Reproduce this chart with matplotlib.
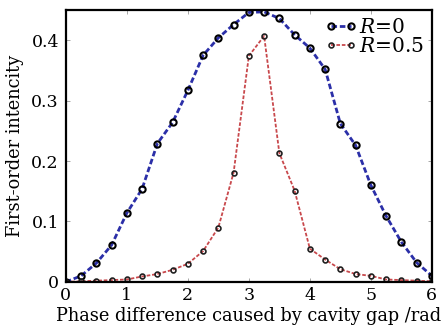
import matplotlib
matplotlib.use('Agg')
import matplotlib.pyplot as plt

# phase difference (rad) and first-order intensity for the two reflectivities
phase = [0, 0.25, 0.5, 0.75, 1.0, 1.25, 1.5, 1.75, 2.0, 2.25, 2.5, 2.75, 3.0,
         3.25, 3.5, 3.75, 4.0, 4.25, 4.5, 4.75, 5.0, 5.25, 5.5, 5.75, 6.0]
r0 = [0.0, 0.010, 0.031, 0.061, 0.114, 0.154, 0.229, 0.264, 0.317, 0.375, 0.404,
      0.426, 0.446, 0.447, 0.436, 0.409, 0.387, 0.352, 0.262, 0.226, 0.160,
      0.109, 0.066, 0.032, 0.010]
r05 = [0.0, 0.001, 0.002, 0.003, 0.004, 0.009, 0.013, 0.020, 0.030, 0.051, 0.090,
       0.181, 0.374, 0.407, 0.213, 0.151, 0.055, 0.037, 0.021, 0.013, 0.010,
       0.004, 0.003, 0.002, 0.001]

plt.rcParams['font.family'] = ['DejaVu Serif']
plt.rcParams['mathtext.fontset'] = 'dejavuserif'

fig = plt.figure(figsize=(4.48, 3.34), dpi=100)
ax = fig.add_axes([0.147, 0.156, 0.817, 0.814])

ax.plot(phase, r0, '--', color='#2b2fa8', lw=2.0, marker='o', ms=4.5,
        mfc='none', mec='black', mew=1.5, label='$R$=0', dashes=(2, 1))
ax.plot(phase, r05, '--', color='#c8484c', lw=1.3, marker='o', ms=3.5,
        mfc='none', mec='#202020', mew=1.2, label='$R$=0.5', dashes=(2, 1))

ax.set_xlim(0, 6)
ax.set_ylim(0, 0.45)
ax.set_xticks([0, 1, 2, 3, 4, 5, 6])
ax.set_yticks([0, 0.1, 0.2, 0.3, 0.4])
ax.set_yticklabels(['0', '0.1', '0.2', '0.3', '0.4'])
ax.tick_params(direction='in', top=True, right=True, labelsize=12.5, length=3,
               width=0.6, color='#999999')
ax.tick_params(axis='x', pad=4)
ax.tick_params(axis='y', pad=5)
for s in ax.spines.values():
    s.set_linewidth(1.6)

ax.set_xlabel('Phase difference caused by cavity gap /rad', fontsize=12.8, labelpad=2)
ax.set_ylabel('First-order intencity', fontsize=12.8, labelpad=5)

ax.legend(loc='upper right', frameon=False, fontsize=14.5, handlelength=1.6,
          handletextpad=0.1, borderpad=0.1, labelspacing=0.0, numpoints=2,
          borderaxespad=0.3)

fig.savefig('out.png', dpi=100)
